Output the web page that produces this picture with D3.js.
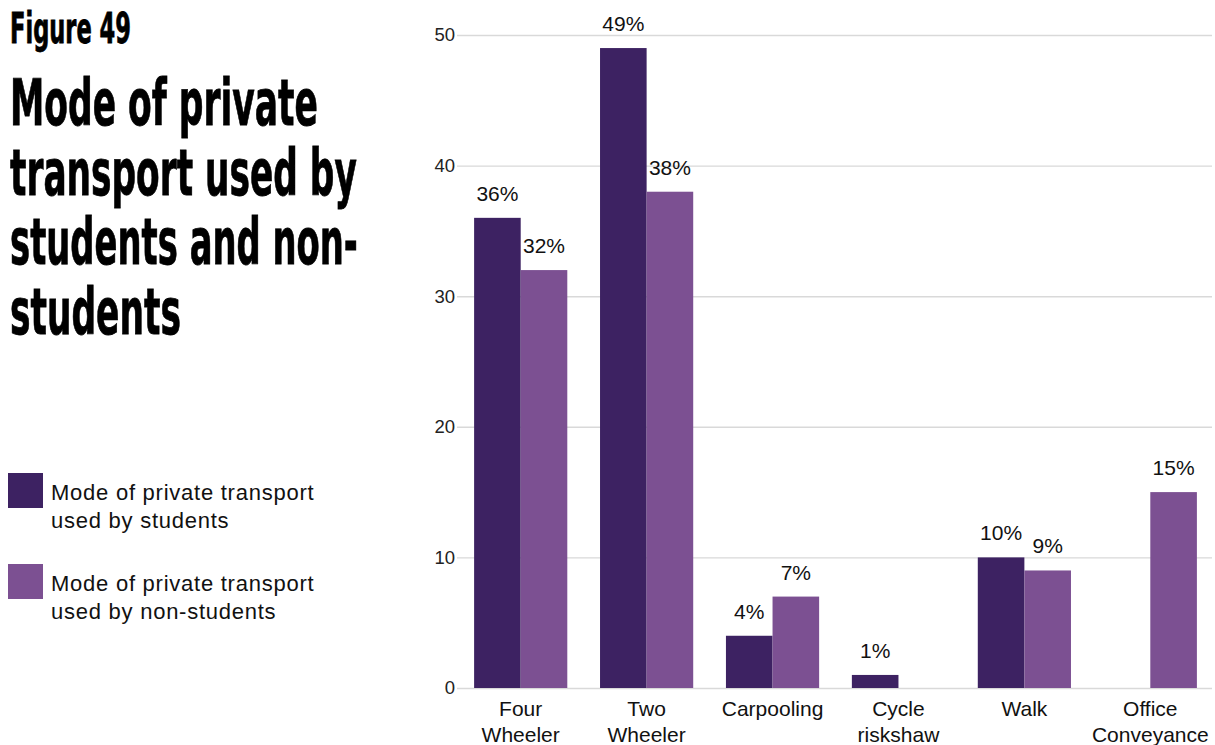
<!DOCTYPE html>
<html>
<head>
<meta charset="utf-8">
<script src="https://cdn.jsdelivr.net/npm/d3@7"></script>
<style>
  html, body { margin: 0; padding: 0; background: #fff; }
  svg { display: block; }
</style>
</head>
<body>
<svg id="chart" width="1215" height="745"></svg>
<script>
// Mode of private transport, share (%) by group
const categories = ["Four Wheeler", "Two Wheeler", "Carpooling", "Cycle riskshaw", "Walk", "Office Conveyance"];
const categoryLines = [["Four", "Wheeler"], ["Two", "Wheeler"], ["Carpooling"], ["Cycle", "riskshaw"], ["Walk"], ["Office", "Conveyance"]];
const students = [36, 49, 4, 1, 10, null];
const nonStudents = [32, 38, 7, null, 9, 15];
const seriesNames = ["Mode of private transport used by students", "Mode of private transport used by non-students"];
const yTicks = [0, 10, 20, 30, 40, 50];

const colors = ["#3d2262", "#7c5092"];
const svg = d3.select("#chart");

// Title block: a condensed bold face, squeezed horizontally to the column width
const titleFont = "'Liberation Sans Narrow', 'DejaVu Sans Condensed', 'Arial Narrow', sans-serif";
const titleLines = [
  { t: "Figure 49", w: 121, y: 43, size: 42 },
  { t: "Mode of private", w: 308, y: 125, size: 64 },
  { t: "transport used by", w: 347, y: 195, size: 64 },
  { t: "students and non-", w: 348, y: 264, size: 64 },
  { t: "students", w: 171, y: 334, size: 64 }
];
svg.append("g").selectAll("text").data(titleLines).join("text")
  .attr("font-family", titleFont).attr("font-weight", "bold")
  .attr("font-size", d => d.size)
  .attr("fill", "#000").attr("stroke", "#000").attr("stroke-width", 0.8)
  .text(d => d.t)
  .each(function (d) {
    const natural = this.getComputedTextLength();
    d3.select(this).attr("transform", `translate(10,${d.y}) scale(${d.w / natural},1)`);
  });

// Legend
const legendFont = "'Liberation Sans', Arial, Helvetica, sans-serif";
const legendItems = [
  { name: seriesNames[0], lines: ["Mode of private transport", "used by students"], y: 473, color: colors[0] },
  { name: seriesNames[1], lines: ["Mode of private transport", "used by non-students"], y: 564, color: colors[1] }
];
const lg = svg.append("g").selectAll("g").data(legendItems).join("g");
lg.append("rect")
  .attr("x", 8).attr("y", d => d.y)
  .attr("width", 35).attr("height", 35)
  .attr("fill", d => d.color);
lg.append("text")
  .attr("font-family", legendFont).attr("font-size", 22)
  .attr("letter-spacing", 0.75)
  .attr("fill", "#111")
  .selectAll("tspan").data(d => d.lines.map((l, i) => ({ l, i, y: d.y }))).join("tspan")
  .attr("x", 51).attr("y", d => d.y + 27 + d.i * 28)
  .text(d => d.l);

// Chart area
const x = d3.scaleBand().domain(categories).range([459, 1212]).paddingInner(0.26).paddingOuter(0.12);
const xs = d3.scaleBand().domain([0, 1]).range([0, x.bandwidth()]);
const y = d3.scaleLinear().domain([0, 50]).range([688, 35]);

const chartFont = "'Liberation Sans', Arial, Helvetica, sans-serif";

// Gridlines and y tick labels
const yAxis = svg.append("g")
  .attr("transform", "translate(457,0)")
  .call(d3.axisLeft(y).tickValues(yTicks).tickSize(-(1212 - 457)).tickPadding(2));
yAxis.select(".domain").remove();
yAxis.selectAll(".tick line").attr("stroke", "#d9d9d9").attr("stroke-width", 1.4);
yAxis.selectAll(".tick text")
  .attr("font-family", chartFont).attr("font-size", 18.5).attr("fill", "#222");

// Bars
const rows = [];
categories.forEach((c, i) => {
  [students[i], nonStudents[i]].forEach((v, s) => {
    if (v != null) rows.push({ c, s, v });
  });
});

svg.append("g").selectAll("rect").data(rows).join("rect")
  .attr("x", d => x(d.c) + xs(d.s))
  .attr("y", d => y(d.v))
  .attr("width", xs.bandwidth())
  .attr("height", d => y(0) - y(d.v))
  .attr("fill", d => colors[d.s]);

// Value labels
svg.append("g").selectAll("text").data(rows).join("text")
  .attr("x", d => x(d.c) + xs(d.s) + xs.bandwidth() / 2)
  .attr("y", d => y(d.v) - 17)
  .attr("text-anchor", "middle")
  .attr("font-family", chartFont).attr("font-size", 21)
  .attr("fill", "#111")
  .text(d => d.v + "%");

// Category labels
const xl = svg.append("g").selectAll("text").data(categories).join("text")
  .attr("text-anchor", "middle")
  .attr("font-family", chartFont).attr("font-size", 21)
  .attr("fill", "#111");
xl.selectAll("tspan").data((d, i) => categoryLines[i].map((l, j) => ({ l, j, c: d }))).join("tspan")
  .attr("x", d => x(d.c) + x.bandwidth() / 2)
  .attr("y", d => 716 + d.j * 26)
  .text(d => d.l);
</script>
</body>
</html>
